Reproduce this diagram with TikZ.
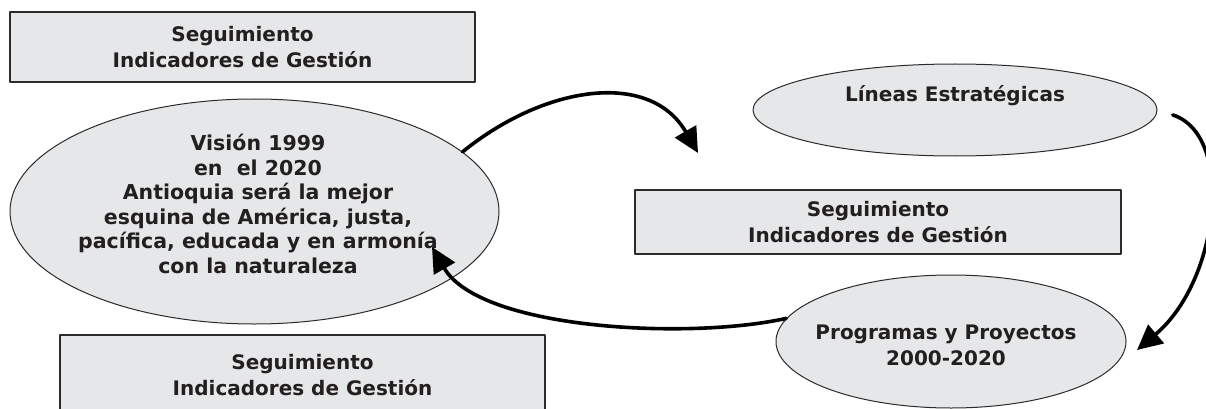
\documentclass[tikz,border=0pt]{standalone}
\usepackage{fontspec}
\setmainfont{DejaVu Sans}
\usetikzlibrary{shapes.geometric,arrows.meta}
\definecolor{relleno}{HTML}{E6E7E8}
\definecolor{borde}{HTML}{2B2B2B}
\definecolor{tinta}{HTML}{231F20}
\begin{document}
\begin{tikzpicture}[x=1pt, y=-1pt, line join=round, line cap=round,
    font=\fontsize{20}{26}\selectfont\bfseries, text=tinta,
    caja/.style={draw=borde, line width=1.3pt, fill=relleno, inner sep=0pt, align=center},
    ovalo/.style={ellipse, draw=borde, line width=1pt, fill=relleno, inner sep=0pt},
    rotulo/.style={align=center, inner sep=0pt},
    flecha/.style={line width=3.6pt, -{Triangle[length=25pt,width=24pt]}}]
    \clip (0,0) rectangle (1206,409);
    % cajas de seguimiento
    \node[caja, minimum width=465pt, minimum height=70pt] (seg1) at (242.5,47) {Seguimiento\\Indicadores de Gestión};
    \node[caja, minimum width=486pt, minimum height=64pt] (seg2) at (878,222) {Seguimiento\\Indicadores de Gestión};
    \node[caja, minimum width=485pt, minimum height=80pt] (seg3) at (302.5,375) {Seguimiento\\Indicadores de Gestión};
    % elipses
    \node[ovalo, minimum width=489pt, minimum height=225pt] (vision) at (254.5,211.5) {};
    \node[rotulo, font=\fontsize{20.5}{24.5}\selectfont\bfseries] (visiontxt) at (258,204) {Visión 1999\\en~ el 2020\\Antioquia será la mejor\\esquina de América, justa,\\pacífica, educada y en armonía\\con la naturaleza};
    \node[ovalo, minimum width=404pt, minimum height=92pt] (lineas) at (955,110) {};
    \node[rotulo] (lineastxt) at (955,96) {Líneas Estratégicas};
    \node[ovalo, minimum width=350pt, minimum height=133pt] (programas) at (951,341.5) {};
    \node[rotulo] (programastxt) at (946,345) {Programas y Proyectos\\2000-2020};
    % puntas libres de las flechas
    \coordinate (punta1) at (698,153);
    \coordinate (punta2) at (1137,350);
    \coordinate (punta3) at (432,247);
    \draw[flecha] (vision.16) .. controls (545,85) and (650,70) .. (punta1);
    \draw[flecha, shorten <=16pt] (lineas.east) .. controls (1235,135) and (1220,280) .. (punta2);
    \draw[flecha] (programas.172) .. controls (690,340) and (480,330) .. (punta3);
\end{tikzpicture}
\end{document}
